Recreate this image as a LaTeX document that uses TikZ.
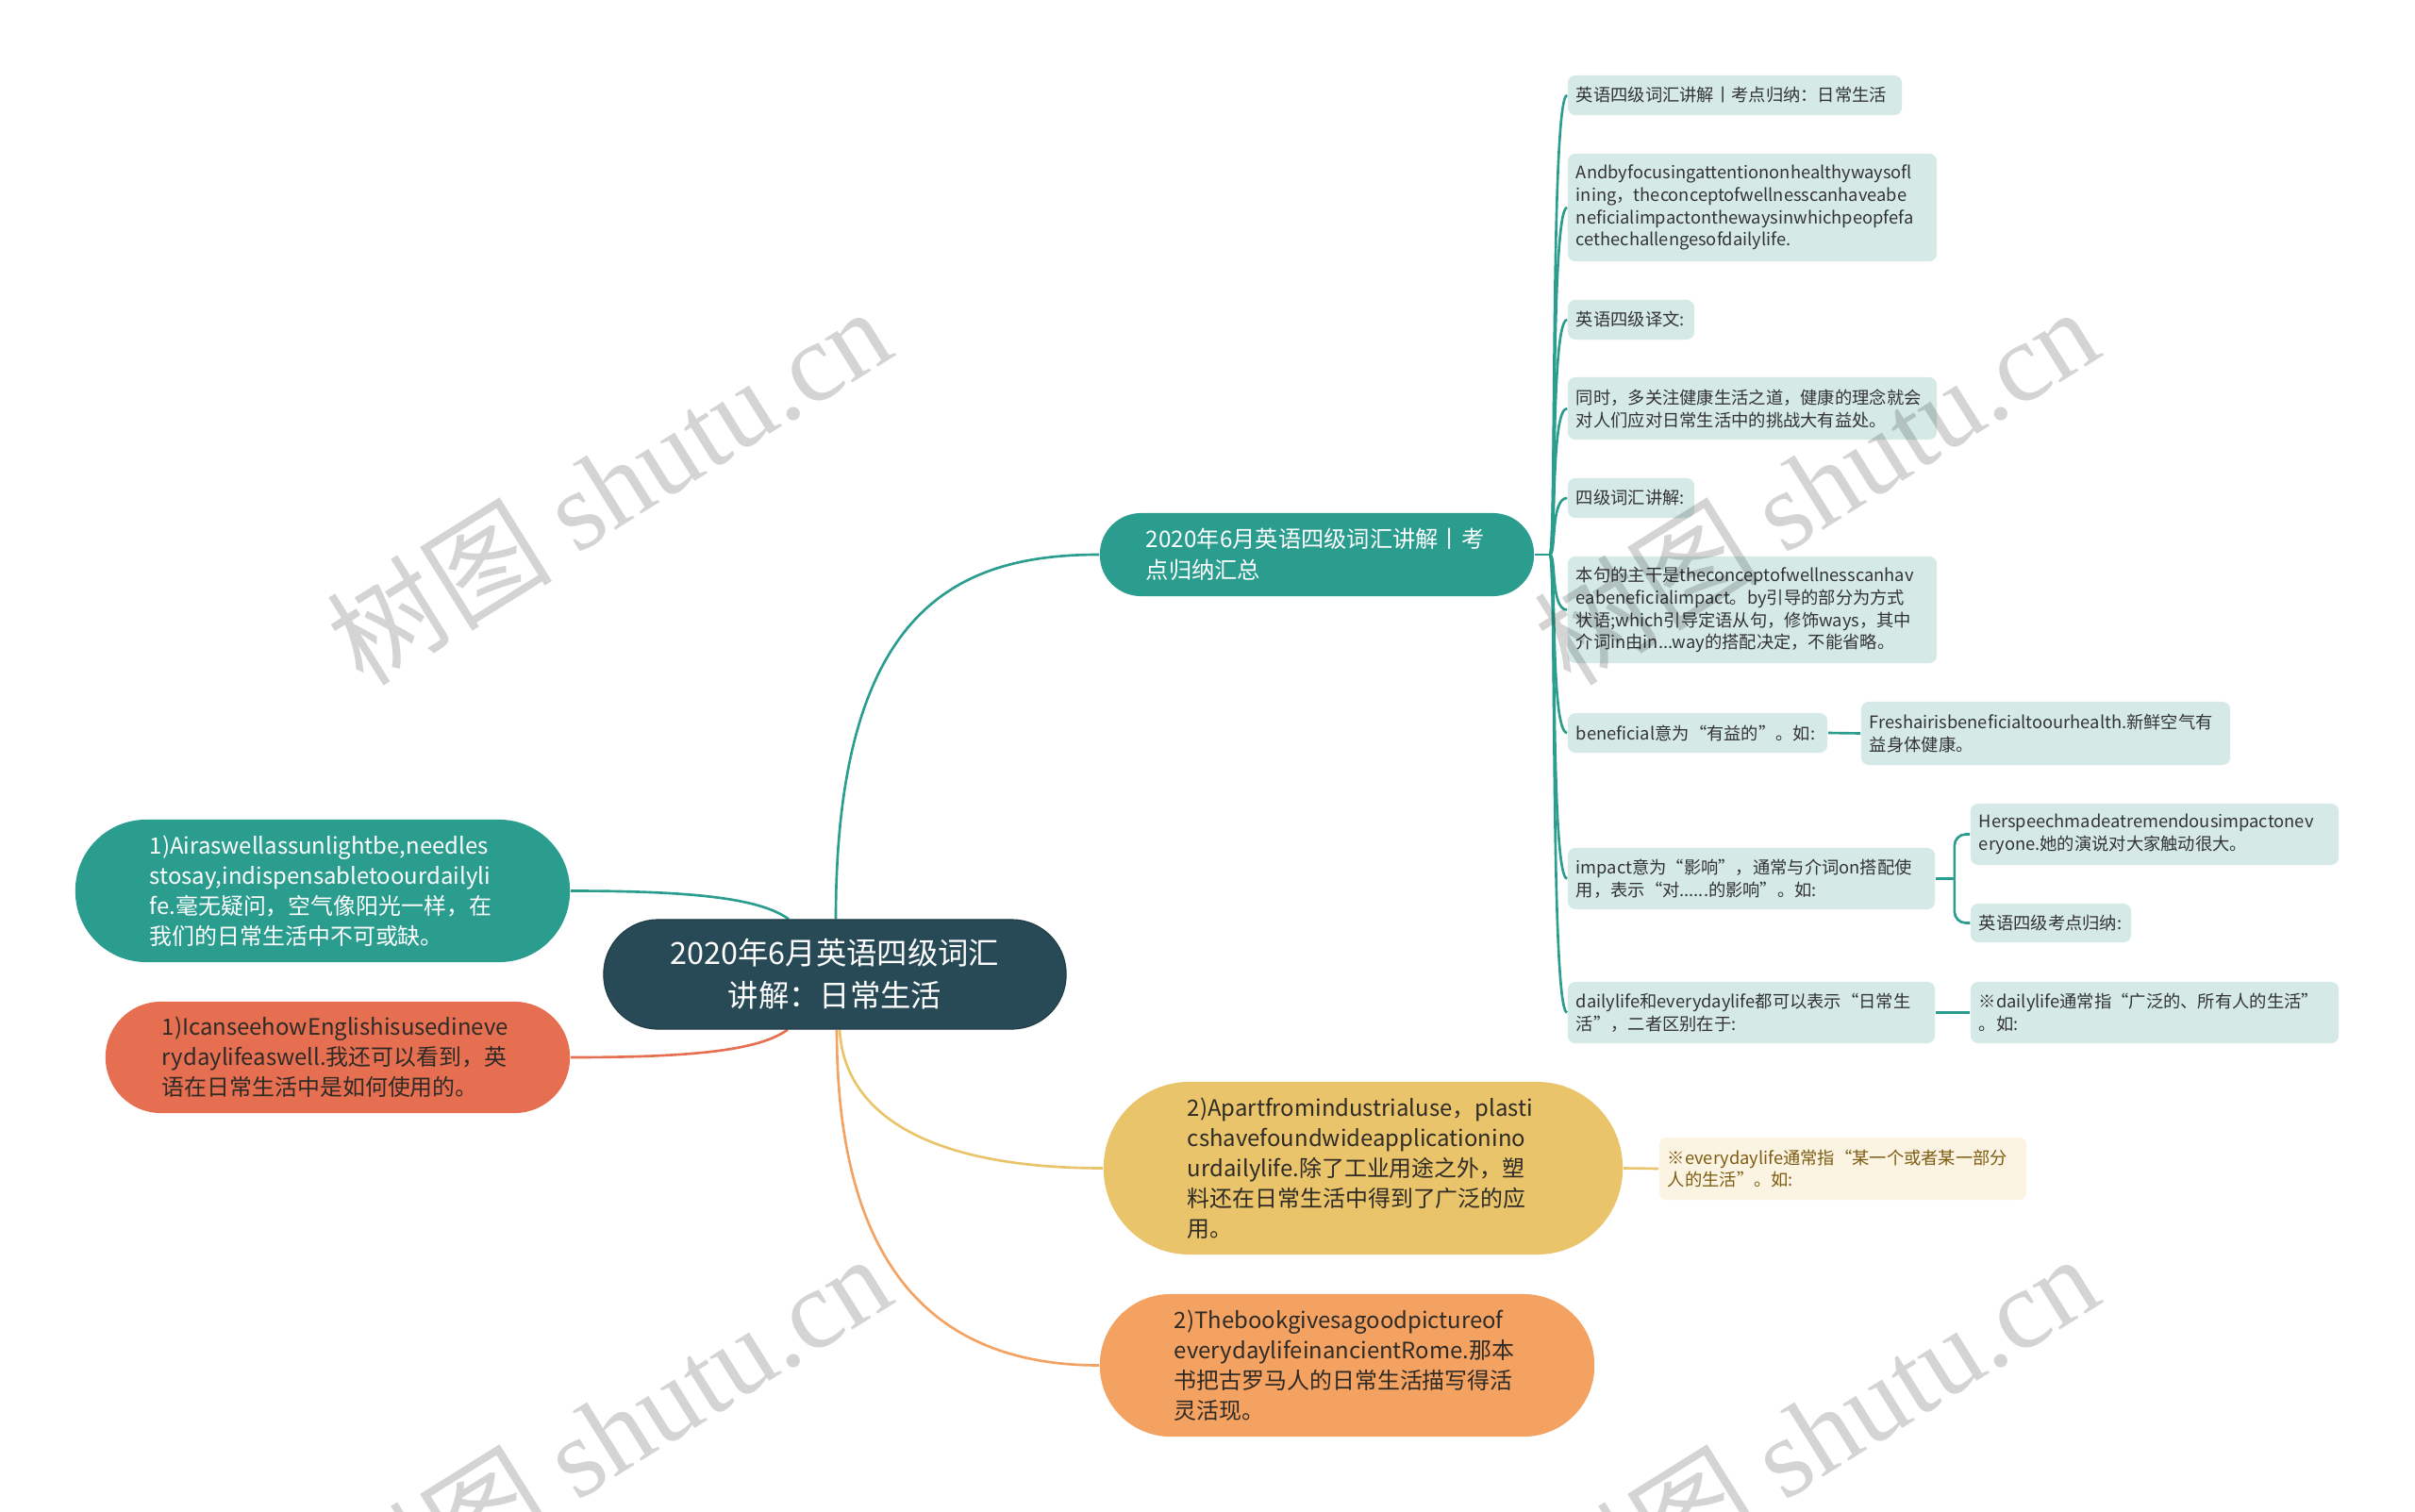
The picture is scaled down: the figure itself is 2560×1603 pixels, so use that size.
\documentclass[tikz,border=0pt]{standalone}
\usepackage{fontspec}
\setmainfont{Noto Sans CJK SC}
\newfontfamily\wmlatin{Liberation Serif}
\usetikzlibrary{calc}
\definecolor{rootc}{HTML}{284A56}
\definecolor{tealc}{HTML}{2A9D8F}
\definecolor{redc}{HTML}{E76F51}
\definecolor{yelc}{HTML}{E9C46A}
\definecolor{orc}{HTML}{F4A261}
\definecolor{leafc}{HTML}{D5EAE7}
\definecolor{creamc}{HTML}{FCF4E2}
\definecolor{brownc}{HTML}{7D5C12}
\definecolor{darkc}{HTML}{333333}
\definecolor{pilltext}{HTML}{2E2A26}
\pgfdeclarelayer{bg}
\pgfdeclarelayer{lines}
\pgfsetlayers{bg,lines,main}
\tikzset{
  leaf/.style={fill=leafc, rounded corners=0.08cm, inner xsep=0.09cm, inner ysep=0pt,
    align=left, text=darkc, font=\fontsize{5.2pt}{6.8pt}\selectfont},
  creamleaf/.style={leaf, fill=creamc, text=brownc},
  pill/.style={inner sep=0pt, align=left, font=\fontsize{6.8pt}{9.1pt}\selectfont},
  tl/.style={draw=tealc, line width=0.75pt},
  rl/.style={draw=redc, line width=0.75pt},
  yll/.style={draw=yelc, line width=0.75pt},
  ol/.style={draw=orc, line width=0.75pt},
  wm/.style={text=black, opacity=0.17, rotate=32, font=\fontsize{34pt}{40pt}\selectfont},
}
\begin{document}
\begin{tikzpicture}[x=0.01cm, y=-0.01cm]
\begin{pgfonlayer}{bg}
\fill[white] (0,0) rectangle (2560,1603);
\end{pgfonlayer}
\useasboundingbox (0,0) rectangle (2560,1603);

% root
\node[fill=rootc, draw=rootc!80!black, line width=0.3pt, rounded corners=0.575cm, minimum width=4.9cm, minimum height=1.16cm,
  inner sep=0pt, align=center, text=white, font=\fontsize{9.2pt}{12.8pt}\selectfont]
  (root) at (885,1033) {2020年6月英语四级词汇\\讲解：日常生活};

% main branches
\node[pill, fill=tealc, rounded corners=0.435cm, minimum width=4.6cm, minimum height=0.88cm, text width=3.62cm,
  text=white, font=\fontsize{6.9pt}{9.4pt}\selectfont]
  (br1) at (1396,588) {2020年6月英语四级词汇讲解丨考\\点归纳汇总};

\node[pill, fill=tealc, rounded corners=0.75cm, minimum width=5.24cm, minimum height=1.51cm, text width=3.66cm,
  text=white]
  (lt) at (342,944.5) {1)Airaswellassunlightbe,needles\\stosay,indispensabletoourdailyli\\fe.毫无疑问，空气像阳光一样，在\\我们的日常生活中不可或缺。};

\node[pill, fill=redc, rounded corners=0.585cm, minimum width=4.92cm, minimum height=1.18cm, text width=3.72cm,
  text=pilltext]
  (rd) at (358,1121) {1)IcanseehowEnglishisusedineve\\rydaylifeaswell.我还可以看到，英\\语在日常生活中是如何使用的。};

\node[pill, fill=yelc, rounded corners=0.91cm, minimum width=5.5cm, minimum height=1.83cm, text width=3.72cm,
  text=pilltext]
  (yl) at (1445,1238.5) {2)Apartfromindustrialuse，plasti\\cshavefoundwideapplicationino\\urdailylife.除了工业用途之外，塑\\料还在日常生活中得到了广泛的应\\用。};

\node[pill, fill=orc, rounded corners=0.75cm, minimum width=5.24cm, minimum height=1.51cm, text width=3.66cm,
  text=pilltext]
  (or) at (1428,1447.5) {2)Thebookgivesagoodpictureof\\everydaylifeinancientRome.那本\\书把古罗马人的日常生活描写得活\\灵活现。};

\node[creamleaf, minimum width=3.89cm, minimum height=0.66cm, text width=3.71cm]
  (ylc) at (1953.5,1239) {※everydaylife通常指“某一个或者某一部分\\人的生活”。如:};

% teal leaves
\node[leaf, minimum width=3.54cm, minimum height=0.42cm, text width=3.36cm]
  (L1) at (1839,101) {英语四级词汇讲解丨考点归纳：日常生活};
\node[leaf, minimum width=3.91cm, minimum height=1.14cm, text width=3.73cm]
  (L2) at (1857.5,220) {Andbyfocusingattentiononhealthywaysofl\\ining，theconceptofwellnesscanhaveabe\\neficialimpactonthewaysinwhichpeopfefa\\cethechallengesofdailylife.};
\node[leaf, minimum width=1.34cm, minimum height=0.42cm, text width=1.16cm]
  (L3) at (1729,339) {英语四级译文:};
\node[leaf, minimum width=3.91cm, minimum height=0.66cm, text width=3.73cm]
  (L4) at (1857.5,433) {同时，多关注健康生活之道，健康的理念就会\\对人们应对日常生活中的挑战大有益处。};
\node[leaf, minimum width=1.34cm, minimum height=0.42cm, text width=1.16cm]
  (L5) at (1729,528) {四级词汇讲解:};
\node[leaf, minimum width=3.91cm, minimum height=1.13cm, text width=3.73cm]
  (L6) at (1857.5,646.5) {本句的主干是theconceptofwellnesscanhav\\eabeneficialimpact。by引导的部分为方式\\状语;which引导定语从句，修饰ways，其中\\介词in由in...way的搭配决定，不能省略。};
\node[leaf, minimum width=2.75cm, minimum height=0.42cm, text width=2.57cm]
  (L7) at (1799.5,777) {beneficial意为“有益的”。如:};
\node[leaf, minimum width=3.91cm, minimum height=0.67cm, text width=3.73cm]
  (L7c) at (2168.5,777.5) {Freshairisbeneficialtoourhealth.新鲜空气有\\益身体健康。};
\node[leaf, minimum width=3.89cm, minimum height=0.65cm, text width=3.71cm]
  (L8) at (1856.5,931.5) {impact意为“影响”，通常与介词on搭配使\\用，表示“对......的影响”。如:};
\node[leaf, minimum width=3.9cm, minimum height=0.65cm, text width=3.72cm]
  (L8a) at (2284,884.5) {Herspeechmadeatremendousimpactonev\\eryone.她的演说对大家触动很大。};
\node[leaf, minimum width=1.7cm, minimum height=0.41cm, text width=1.52cm]
  (L8b) at (2174,978.5) {英语四级考点归纳:};
\node[leaf, minimum width=3.89cm, minimum height=0.65cm, text width=3.71cm]
  (L9) at (1856.5,1073.5) {dailylife和everydaylife都可以表示“日常生\\活”，二者区别在于:};
\node[leaf, minimum width=3.9cm, minimum height=0.65cm, text width=3.72cm]
  (L9c) at (2284,1073.5) {※dailylife通常指“广泛的、所有人的生活”\\。如:};

\coordinate (j1) at ($(br1.east)+(16,0)$);
\coordinate (j8) at ($(L8.east)+(20,0)$);

\begin{pgfonlayer}{lines}
% root connectors
\draw[tl] ($(root.north)+(-49,0)$) .. controls +(-30,-22) and +(130,0) .. (lt.east);
\draw[rl] ($(root.south)+(-50,0)$) .. controls +(-30,22) and +(130,0) .. (rd.east);
\draw[tl] ($(root.north)+(1,0)$) .. controls +(0,-330) and +(-150,0) .. (br1.west);
\draw[yll] ($(root.south)+(5,0)$) .. controls +(5,90) and +(-185,0) .. (yl.west);
\draw[ol] ($(root.south)+(2,0)$) .. controls +(0,280) and +(-150,0) .. (or.west);
% branch 1 to leaves
\draw[tl] (br1.east) -- (j1);
\foreach \n in {L1,L2,L3,L4,L5,L6,L7,L8,L9}{
  \draw[tl] (j1) .. controls +(7,0) and +(-18,0) .. (\n.west);
}
\draw[tl] (L7.east) -- (L7c.west);
\draw[tl] (L8.east) -- (j8);
\draw[tl, rounded corners=0.12cm] (j8) |- (L8a.west);
\draw[tl, rounded corners=0.12cm] (j8) |- (L8b.west);
\draw[tl] (L9.east) -- (L9c.west);
\draw[yll] (yl.east) -- (ylc.west);
\end{pgfonlayer}

% watermarks
\node[wm] (wm1) at (645,514) {树图 {\wmlatin shutu.cn}};
\node[wm] (wm2) at (1925,514) {树图 {\wmlatin shutu.cn}};
\node[wm] (wm3) at (645,1518) {树图 {\wmlatin shutu.cn}};
\node[wm] (wm4) at (1925,1518) {树图 {\wmlatin shutu.cn}};
\end{tikzpicture}
\end{document}
